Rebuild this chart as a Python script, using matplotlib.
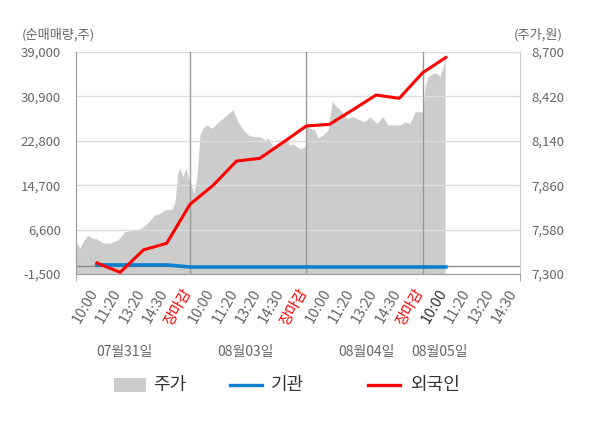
import numpy as np
import matplotlib.pyplot as plt
from matplotlib.patches import Rectangle
from matplotlib.lines import Line2D
from matplotlib import transforms

plt.rcParams['font.family'] = ['Noto Sans CJK KR', 'DejaVu Sans']

# x tick labels (index 1..19), day closes at 5, 10, 15
tick_labels = ['10:00', '11:20', '13:20', '14:30', '장마감',
               '10:00', '11:20', '13:20', '14:30', '장마감',
               '10:00', '11:20', '13:20', '14:30', '장마감',
               '10:00', '11:20', '13:20', '14:30']
day_breaks = [5, 10, 15]
dates = ['07월31일', '08월03일', '08월04일', '08월05일']
date_pos = [2.2, 7.4, 12.6, 15.75]

vol_ticks = [-1500, 6600, 14700, 22800, 30900, 39000]
price_ticks = [7300, 7580, 7860, 8140, 8420, 8700]

# price (area)
area_pos = [0.10, 0.14, 0.27, 0.40, 0.61, 0.78, 1.00, 1.26, 1.56, 1.69, 1.90,
            2.20, 2.42, 2.72, 2.98, 3.19, 3.49, 3.71, 3.92, 4.22, 4.35, 4.48,
            4.57, 4.70, 4.83, 4.96, 5.08, 5.17, 5.30, 5.43, 5.56, 5.73, 5.95,
            6.16, 6.42, 6.63, 6.85, 7.02, 7.24, 7.50, 7.71, 8.01, 8.23, 8.36,
            8.57, 8.87, 9.17, 9.30, 9.43, 9.73, 9.95, 10.02, 10.16, 10.38,
            10.50, 10.72, 10.94, 11.11, 11.32, 11.54, 11.75, 12.01, 12.31,
            12.52, 12.74, 13.04, 13.29, 13.51, 13.73, 14.03, 14.25, 14.46,
            14.68, 14.89, 15.01, 15.11, 15.24, 15.45, 15.62, 15.75, 15.88, 15.97]
area_price = [7369, 7496, 7464, 7504, 7546, 7527, 7521, 7496, 7496, 7504, 7514,
              7567, 7573, 7577, 7598, 7623, 7672, 7683, 7704, 7708, 7748, 7935,
              7967, 7914, 7970, 7893, 7851, 7809, 7914, 8177, 8219, 8240, 8219,
              8250, 8282, 8309, 8339, 8271, 8219, 8177, 8166, 8166, 8145, 8156,
              8103, 8124, 8145, 8113, 8120, 8090, 8103, 8260, 8219, 8208,
              8156, 8177, 8208, 8387, 8355, 8323, 8282, 8292, 8271,
              8260, 8292, 8250, 8292, 8240, 8240, 8240, 8260, 8250,
              8323, 8323, 8323, 8481, 8544, 8566, 8566, 8544, 8607, 8660]

# net buying (shares)
flow_pos = list(range(1, 17))
foreign = [500, -1200, 2900, 4100, 11200, 14700, 19100, 19600,
           22500, 25500, 25800, 28450, 31150, 30550, 35200, 38000]
inst = [150, 150, 150, 150, -220, -220, -220, -220,
        -220, -220, -220, -220, -220, -220, -220, -220]

W, H = 600, 428
fig = plt.figure(figsize=(W / 100, H / 100), dpi=100)
ax = fig.add_axes([76 / W, 154 / H, 444 / W, 222 / H])
ax2 = ax.twinx()
ax.set_zorder(ax2.get_zorder() + 1)
ax.patch.set_visible(False)
ax2.set_facecolor('#f4f4f4')

ax2.fill_between(area_pos, area_price, 7300, color='#cccccc', lw=0)
ax2.set_ylim(7300, 8700)
ax2.set_yticks(price_ticks)
ax2.set_yticklabels([f'{v:,}' for v in price_ticks])
ax2.tick_params(axis='y', length=0, pad=8, labelcolor='#666666', labelsize=9.5)
for s in ['top', 'left', 'bottom']:
    ax2.spines[s].set_visible(False)
ax2.spines['right'].set_color('#cccccc')

ax.set_xlim(0.1, 19.19)
ax.set_ylim(-1500, 39000)
ax.set_yticks(vol_ticks)
ax.set_yticklabels([f'{v:,}' for v in vol_ticks])
ax.tick_params(axis='y', length=0, pad=11, labelcolor='#666666', labelsize=9.5)
ax.grid(axis='y', color='#dddddd', lw=1)
ax.axhline(0, color='#8c8c8c', lw=1, zorder=2)
for b in day_breaks:
    ax.axvline(b, color='#999999', lw=1, zorder=2)

ax.plot(flow_pos, inst, color='#0b7fd0', lw=2.6, zorder=3)
ax.plot(flow_pos, foreign, color='#ff0000', lw=2.2, zorder=4)

for s in ['top', 'right']:
    ax.spines[s].set_visible(False)
ax.spines['left'].set_color('#999999')
ax.spines['bottom'].set_color('#999999')

ax.set_xticks(range(1, 20))
ax.set_xticklabels(tick_labels, rotation=60, ha='right', va='top', fontsize=10.5)
ax.set_xticks([0.1] + day_breaks + [19.19], minor=True)
ax.tick_params(axis='x', which='major', length=0, pad=9)
ax.tick_params(axis='x', which='minor', length=5, color='#999999')
shift = transforms.ScaledTranslation(0.04, 0, fig.dpi_scale_trans)
for i, t in enumerate(ax.get_xticklabels()):
    t.set_transform(t.get_transform() + shift)
    if tick_labels[i] == '장마감':
        t.set_color('#ff0000')
    elif i == 15:
        t.set_color('#333333')
    else:
        t.set_color('#666666')

trans = transforms.blended_transform_factory(ax.transData, fig.transFigure)
for d, p in zip(dates, date_pos):
    ax.text(p, 1 - 352 / H, d, transform=trans, ha='center', va='center',
            fontsize=10, color='#666666')

fig.text(22 / W, 1 - 35 / H, '(순매매량,주)', ha='left', va='center',
         fontsize=9.5, color='#666666')
fig.text(563 / W, 1 - 35 / H, '(주가,원)', ha='right', va='center',
         fontsize=9.5, color='#666666')

# legend
ly = 1 - 385 / H
fig.add_artist(Rectangle((114 / W, 1 - 392 / H), 32 / W, 14 / H,
                         transform=fig.transFigure, color='#cccccc', lw=0))
fig.text(153 / W, ly, '주가', ha='left', va='center', fontsize=13, color='#333333')
fig.add_artist(Line2D([230 / W, 262 / W], [ly, ly], transform=fig.transFigure,
                      color='#0b7fd0', lw=2.4))
fig.text(271 / W, ly, '기관', ha='left', va='center', fontsize=13, color='#333333')
fig.add_artist(Line2D([368 / W, 400 / W], [ly, ly], transform=fig.transFigure,
                      color='#ff0000', lw=2.4))
fig.text(410 / W, ly, '외국인', ha='left', va='center', fontsize=13, color='#333333')

fig.savefig('out.png', dpi=100)
